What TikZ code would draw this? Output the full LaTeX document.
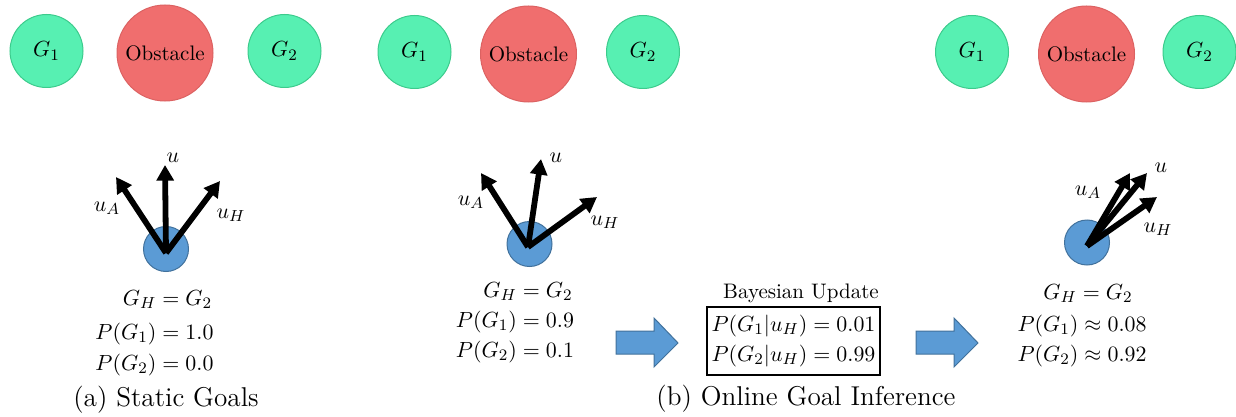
\documentclass[tikz,border=0pt]{standalone}
\usetikzlibrary{arrows.meta}
\definecolor{goalgreen}{HTML}{57F0B2}
\definecolor{goaledge}{HTML}{3CCB8C}
\definecolor{obsred}{HTML}{F06E6E}
\definecolor{obsedge}{HTML}{DC6262}
\definecolor{robotblue}{HTML}{5B9BD5}
\definecolor{robotedge}{HTML}{41719C}

\begin{document}
\begin{tikzpicture}[x=0.5pt,y=-0.5pt,
  every node/.style={font=\fontsize{11}{13}\selectfont, inner sep=0pt},
  goal/.style={circle, fill=goalgreen, draw=goaledge, line width=0.5pt, minimum size=36.5pt},
  obstacle/.style={circle, fill=obsred, draw=obsedge, line width=0.5pt, minimum size=48pt,
                   font=\fontsize{10.5}{12}\selectfont},
  robot/.style={circle, fill=robotblue, draw=robotedge, line width=0.5pt, minimum size=22.5pt},
  vec/.style={line width=2.9pt, -{Triangle[length=7.8pt,width=8.4pt]}},
  blockarrow/.style={fill=robotblue, draw=robotedge, line width=0.5pt},
  caption/.style={font=\fontsize{13.6}{15}\selectfont, anchor=base},
  eq/.style={anchor=base},
  vlabel/.style={}
]
\useasboundingbox (0,0) rectangle (1236,417);

% ---------------- (a) Static Goals ----------------
\node[goal] (a-g1) at (46.5,51) {$G_1$};
\node[obstacle] (a-obs) at (165,53) {Obstacle};
\node[goal] (a-g2) at (284.5,51) {$G_2$};

\node[robot] (a-robot) at (166,249) {};
\coordinate (a-o) at (166,253);
\coordinate (a-u) at (165,165);
\coordinate (a-ua) at (116,177);
\coordinate (a-uh) at (220,181);
\draw[vec] (a-o) -- (a-ua);
\draw[vec] (a-o) -- (a-u);
\draw[vec] (a-o) -- (a-uh);
\node[vlabel] (a-lu) at (173,158) {$u$};
\node[vlabel] (a-lua) at (107,208) {$u_A$};
\node[vlabel] (a-luh) at (231,215) {$u_H$};

\node[eq] (a-gh) at (167.5,305) {$G_H = G_2$};
\node[eq] (a-p1) at (154.5,339) {$P(G_1) = 1.0$};
\node[eq] (a-p2) at (154.5,370) {$P(G_2) = 0.0$};
\node[caption] (a-cap) at (166,406) {(a) Static Goals};

% ---------------- (b) Online Goal Inference ----------------
\node[goal] (b-g1) at (414.5,52) {$G_1$};
\node[obstacle] (b-obs) at (528.5,54) {Obstacle};
\node[goal] (b-g2) at (643,52) {$G_2$};

\node[robot] (b-robot) at (529.5,244) {};
\coordinate (b-o) at (528,247);
\coordinate (b-u) at (541,159);
\coordinate (b-ua) at (481,173);
\coordinate (b-uh) at (597,197);
\draw[vec] (b-o) -- (b-ua);
\draw[vec] (b-o) -- (b-u);
\draw[vec] (b-o) -- (b-uh);
\node[vlabel] (b-lu) at (556,158) {$u$};
\node[vlabel] (b-lua) at (471,202) {$u_A$};
\node[vlabel] (b-luh) at (605,222) {$u_H$};

\node[eq] (b-gh) at (528,297) {$G_H = G_2$};
\node[eq] (b-p1) at (515,327) {$P(G_1) = 0.9$};
\node[eq] (b-p2) at (515,357) {$P(G_2) = 0.1$};

% update step
\draw[blockarrow] (616,331) -- (654,331) -- (654,318) -- (678,343)
                  -- (654,367) -- (654,354) -- (616,354) -- cycle;
\node[anchor=base, font=\fontsize{10.5}{12}\selectfont] (bayes-title) at (801,298) {Bayesian Update};
\node[draw, line width=1pt, minimum width=86.5pt, minimum height=34pt, align=center,
      font=\fontsize{11}{15}\selectfont] (bayes) at (793.5,341)
      {$P(G_1|u_H) = 0.01$\\$P(G_2|u_H) = 0.99$};
\draw[blockarrow] (916,331) -- (954,331) -- (954,318) -- (978,343)
                  -- (954,367) -- (954,354) -- (916,354) -- cycle;

\node[goal] (c-g1) at (972,52) {$G_1$};
\node[obstacle] (c-obs) at (1086.5,54) {Obstacle};
\node[goal] (c-g2) at (1199.5,52) {$G_2$};

\node[robot] (c-robot) at (1087,242.5) {};
\coordinate (c-o) at (1087,246);
\coordinate (c-u) at (1147,173);
\coordinate (c-ua) at (1130,173);
\coordinate (c-uh) at (1157,197);
\draw[vec] (c-o) -- (c-ua);
\draw[vec] (c-o) -- (c-u);
\draw[vec] (c-o) -- (c-uh);
\node[vlabel] (c-lu) at (1161,168) {$u$};
\node[vlabel] (c-lua) at (1088,192) {$u_A$};
\node[vlabel] (c-luh) at (1158,229) {$u_H$};

\node[eq] (c-gh) at (1088,299) {$G_H = G_2$};
\node[eq] (c-p1) at (1082,331) {$P(G_1) \approx 0.08$};
\node[eq] (c-p2) at (1082,361) {$P(G_2) \approx 0.92$};

\node[caption] (b-cap) at (806,405) {(b) Online Goal Inference};
\end{tikzpicture}
\end{document}
